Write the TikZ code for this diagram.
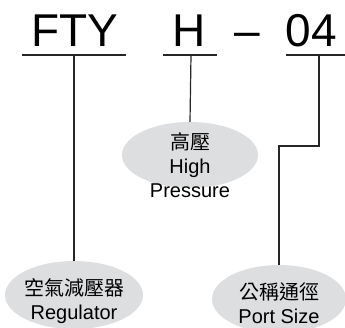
\documentclass[tikz,border=0pt]{standalone}
\usepackage{fontspec}
\setmainfont{Liberation Sans}
\newfontfamily\cjk{Noto Sans CJK TC}
\usetikzlibrary{shapes.geometric, positioning}
\definecolor{bubblegray}{RGB}{221,222,224}

\begin{document}
\begin{tikzpicture}[
    x=1pt, y=-1pt,
    code/.style={anchor=base, inner sep=0pt, font=\fontsize{46}{46}\selectfont},
    rule/.style={draw=black!85, line width=1.2pt},
    bubble/.style={ellipse, fill=bubblegray, inner sep=0pt},
    caption/.style={align=center, inner sep=0pt, font=\fontsize{20}{24}\selectfont}
]
\useasboundingbox (0,0) rectangle (345,327);

% model code
\node[code] (fty)  at (75,46)    {FTY};
\node[code] (h)    at (189.5,46) {H};
\node[code] (dash) at (247.5,46) {--};
\node[code] (size) at (311.5,46) {04};

% underlines and tap points
\coordinate (fty-l)    at (22,55);
\coordinate (fty-r)    at (126,55);
\coordinate (fty-tap)  at (74,55);
\coordinate (h-l)      at (163,55);
\coordinate (h-r)      at (217,55);
\coordinate (h-tap)    at (191,55);
\coordinate (size-l)   at (286,55);
\coordinate (size-r)   at (345,55);
\coordinate (size-tap) at (319,55);

\draw[rule] (fty-l)  -- (fty-r);
\draw[rule] (h-l)    -- (h-r);
\draw[rule] (size-l) -- (size-r);

% bubbles
\node[bubble, minimum width=136pt, minimum height=66pt] (hpbg)   at (190,155) {};
\node[bubble, minimum width=138pt, minimum height=68pt] (regbg)  at (74,295)  {};
\node[bubble, minimum width=134pt, minimum height=68pt] (portbg) at (279,299) {};

\node[caption] (hp)   at (190,165)   {{\cjk 高壓}\\High\\Pressure};
\node[caption] (reg)  at (74,301.5)  {{\cjk 空氣減壓器}\\Regulator};
\node[caption] (port) at (279,303)   {{\cjk 公稱通徑}\\Port Size};

% connectors
\draw[rule] (fty-tap) -- (regbg.north);
\draw[rule] (h-tap)   -- (hpbg.north);
\draw[rule] (size-tap) -- ++(0,91) -| (portbg.north);

\end{tikzpicture}
\end{document}
